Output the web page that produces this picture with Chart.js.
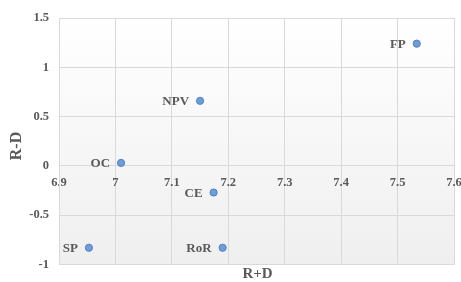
<!DOCTYPE html>
<html>
<head>
<meta charset="utf-8">
<script src="https://cdn.jsdelivr.net/npm/chart.js@4.4.1/dist/chart.umd.min.js"></script>
<style>
html,body{margin:0;padding:0;background:#fff;}
#wrap{width:461px;height:282px;position:relative;}
</style>
</head>
<body>
<div id="wrap"><canvas id="c"></canvas></div>
<script>
const labels = ["FP", "NPV", "OC", "CE", "SP", "RoR"];
const xValues = [7.534, 7.15, 7.01, 7.174, 6.953, 7.19];
const yValues = [1.24, 0.66, 0.03, -0.27, -0.83, -0.83];
const xTicks = [6.9, 7.0, 7.1, 7.2, 7.3, 7.4, 7.5, 7.6];
const yTicks = [-1, -0.5, 0, 0.5, 1, 1.5];
const xTitle = "R+D";
const yTitle = "R-D";

const points = xValues.map((x, i) => ({x: x, y: yValues[i]}));
const textColor = "#595959";
const gridColor = "#d9d9d9";
const serif = "'Liberation Serif', 'Times New Roman', serif";

const bgPlugin = {
  id: "bg",
  beforeDraw(chart) {
    const a = chart.chartArea, ctx = chart.ctx;
    const g = ctx.createLinearGradient(0, a.top, 0, a.bottom);
    g.addColorStop(0, "#ffffff");
    g.addColorStop(1, "#efefef");
    ctx.save();
    ctx.fillStyle = g;
    ctx.fillRect(a.left, a.top, a.right - a.left, a.bottom - a.top);
    ctx.restore();
  }
};

const labelPlugin = {
  id: "pointLabels",
  afterDatasetsDraw(chart) {
    const ctx = chart.ctx;
    const meta = chart.getDatasetMeta(0);
    ctx.save();
    ctx.font = "bold 13px " + serif;
    ctx.fillStyle = textColor;
    ctx.textAlign = "right";
    ctx.textBaseline = "middle";
    meta.data.forEach((el, i) => {
      ctx.fillText(labels[i], el.x - 11, el.y + 1);
    });
    const a = chart.chartArea;
    // x axis title
    ctx.font = "bold 15px " + serif;
    ctx.textAlign = "center";
    ctx.textBaseline = "middle";
    ctx.fillText(xTitle, (a.left + a.right) / 2 + 1, 274);
    // y axis title
    ctx.translate(17, 146);
    ctx.rotate(-Math.PI / 2);
    ctx.font = "bold 16px " + serif;
    ctx.fillText(yTitle, 0, 0);
    ctx.restore();
  }
};

new Chart(document.getElementById("c"), {
  type: "scatter",
  data: {
    datasets: [{
      data: points,
      backgroundColor: "#6f9bd8",
      borderColor: "#5083c4",
      borderWidth: 1,
      pointRadius: 3.6,
      pointHoverRadius: 3.6
    }]
  },
  options: {
    responsive: true,
    maintainAspectRatio: false,
    animation: false,
    events: [],
    layout: {padding: {top: 18, right: 7, bottom: 0, left: 0}},
    plugins: {legend: {display: false}, tooltip: {enabled: false}},
    scales: {
      x: {
        type: "linear",
        position: {y: 0},
        min: 6.9, max: 7.6,
        afterBuildTicks(scale) { scale.ticks = xTicks.map(v => ({value: v})); },
        afterFit(scale) { scale.height = 17; scale.paddingLeft = 0; scale.paddingRight = 0; },
        grid: {color: gridColor, drawTicks: false, lineWidth: 1},
        border: {color: gridColor},
        ticks: {
          color: textColor, padding: 9, maxRotation: 0, autoSkip: false,
          font: {family: serif, size: 12.5, weight: "bold"},
          callback: v => String(Math.round(v * 10) / 10)
        }
      },
      y: {
        type: "linear",
        min: -1, max: 1.5,
        afterBuildTicks(scale) { scale.ticks = yTicks.map(v => ({value: v})); },
        afterFit(scale) { scale.width = 59; },
        grid: {color: gridColor, drawTicks: false, lineWidth: 1},
        border: {color: gridColor},
        ticks: {
          color: textColor, padding: 10,
          font: {family: serif, size: 12.5, weight: "bold"},
          callback: v => String(v)
        },
        title: {display: false}
      }
    }
  },
  plugins: [bgPlugin, labelPlugin]
});
</script>
</body>
</html>
